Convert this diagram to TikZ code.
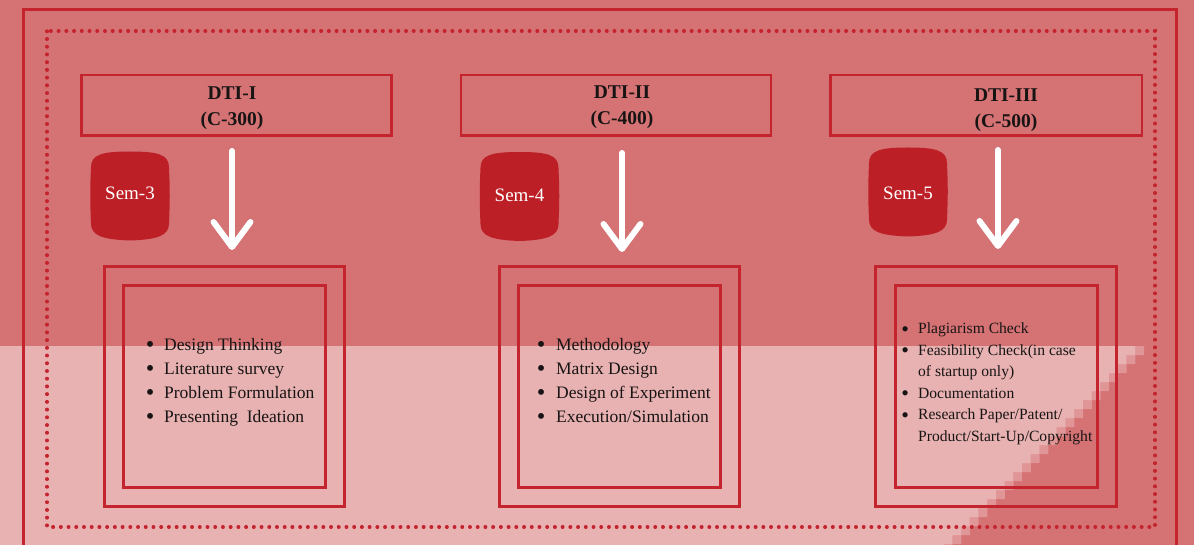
\documentclass[tikz,border=0pt]{standalone}
\usepackage{fontspec}
\setmainfont{Liberation Serif}
\usetikzlibrary{arrows.meta}
\definecolor{topbg}{RGB}{212,114,116}
\definecolor{midbg}{RGB}{224,150,151}
\definecolor{botbg}{RGB}{232,178,178}
\definecolor{framered}{RGB}{196,36,46}
\definecolor{semred}{RGB}{189,31,38}
\definecolor{ink}{RGB}{25,20,20}
\newcommand\bigbul{\raisebox{-0.13em}{\scalebox{1.4}{\textbullet}}}
\begin{document}
\begin{tikzpicture}[x=1pt,y=-1pt,
  dtibox/.style={draw=framered, line width=2.5pt, minimum width=310pt, minimum height=60.5pt, inner sep=0pt},
  dtitext/.style={font=\bfseries\fontsize{19.5}{26.5}\selectfont, text=ink, align=center, inner sep=0pt},
  outerbox/.style={draw=framered, line width=2.6pt, minimum width=240.5pt, minimum height=240.5pt, inner sep=0pt},
  innerbox/.style={draw=framered, line width=2.6pt, minimum width=202.5pt, minimum height=202.5pt, inner sep=0pt},
  semtext/.style={font=\fontsize{19}{22}\selectfont, text=white, inner sep=0pt},
  itemsbig/.style={font=\fontsize{17.5}{24}\selectfont, text=ink, inner sep=0pt, anchor=base west},
  itemssmall/.style={font=\fontsize{15.6}{21.5}\selectfont, text=ink, inner sep=0pt, anchor=base west},
  warrow/.style={draw=white, line width=6pt, line cap=round, line join=round,
     -{Straight Barb[length=25pt, width=37pt, round]}},
  sembadge/.pic={\fill[semred] (-39,-28) .. controls (-39,-41) and (-28,-44) .. (0,-44)
     .. controls (28,-44) and (39,-41) .. (39,-28)
     .. controls (40,-5) and (40,5) .. (39,28)
     .. controls (39,40) and (28,44) .. (0,45)
     .. controls (-28,44) and (-39,40) .. (-39,28)
     .. controls (-40,5) and (-40,-5) .. (-39,-28) -- cycle;}
]
\useasboundingbox (0,0) rectangle (1194,545);
\clip (0,0) rectangle (1194,545);
% background
\fill[topbg] (0,0) rectangle (1194,545);
\fill[midbg] (0,346) -- (1144,346) \foreach \k in {1,...,24}{ -- ++(0,9) -- ++(-8.7,0)} |- (0,580) -- cycle;
\fill[botbg] (0,346) -- (1135,346) \foreach \k in {1,...,24}{ -- ++(0,9) -- ++(-8.7,0)} |- (0,580) -- cycle;
% frames
\draw[framered, line width=3.5pt] (23.5,9.5) rectangle (1176.5,620);
\draw[framered, line width=3.3pt, line cap=round, dash pattern=on 0.6pt off 7.12pt] (47,31) rectangle (1155,527);
% top boxes
\node[dtibox] (d1) at (236.5,105.5) {};
\node[dtibox] (d2) at (616,105.5) {};
\node[dtibox, minimum width=311.5pt] (d3) at (986,105.5) {};
\node[dtitext, anchor=base] (t1) at (232,126) {DTI-I\\(C-300)};
\node[dtitext, anchor=base] (t2) at (622,125) {DTI-II\\(C-400)};
\node[dtitext, anchor=base] (t3) at (1006,128) {DTI-III\\(C-500)};
% sem badges
\pic at (130,195.5) {sembadge};
\pic at (519.5,196) {sembadge};
\pic at (908,191.5) {sembadge};
\node[semtext] (s3) at (130,193.5) {Sem-3};
\node[semtext] (s4) at (519.5,195) {Sem-4};
\node[semtext] (s5) at (908,193) {Sem-5};
% arrows
\coordinate (a1s) at (232,151);
\coordinate (a1e) at (232,250);
\coordinate (a2s) at (622,153);
\coordinate (a2e) at (622,252);
\coordinate (a3s) at (998,150);
\coordinate (a3e) at (998,249);
\draw[warrow] (a1s) -- (a1e);
\draw[warrow] (a2s) -- (a2e);
\draw[warrow] (a3s) -- (a3e);
% bottom boxes
\node[outerbox] (o1) at (224.5,386.5) {};
\node[innerbox] (i1) at (224.5,386.5) {};
\node[outerbox] (o2) at (619.5,386.5) {};
\node[innerbox] (i2) at (619.5,386.5) {};
\node[outerbox] (o3) at (996,386.5) {};
\node[innerbox] (i3) at (996.5,386.5) {};
% lists
\node[itemsbig] (l1) at (145.7,350) {\begin{tabular}[t]{@{}l@{\hspace{9.7pt}}l@{}}
\bigbul & Design Thinking\\
\bigbul & Literature survey\\
\bigbul & Problem Formulation\\
\bigbul & Presenting\ \ Ideation
\end{tabular}};
\node[itemsbig] (l2) at (536.7,350) {\begin{tabular}[t]{@{}l@{\hspace{10.7pt}}l@{}}
\bigbul & Methodology\\
\bigbul & Matrix Design\\
\bigbul & Design of Experiment\\
\bigbul & Execution/Simulation
\end{tabular}};
\node[itemssmall] (l3) at (901.2,334) {\begin{tabular}[t]{@{}l@{\hspace{9.1pt}}l@{}}
\bigbul & Plagiarism Check\\
\bigbul & Feasibility Check(in case\\
 & of startup only)\\
\bigbul & Documentation\\
\bigbul & Research Paper/Patent/\\
 & Product/Start-Up/Copyright
\end{tabular}};
\end{tikzpicture}
\end{document}
